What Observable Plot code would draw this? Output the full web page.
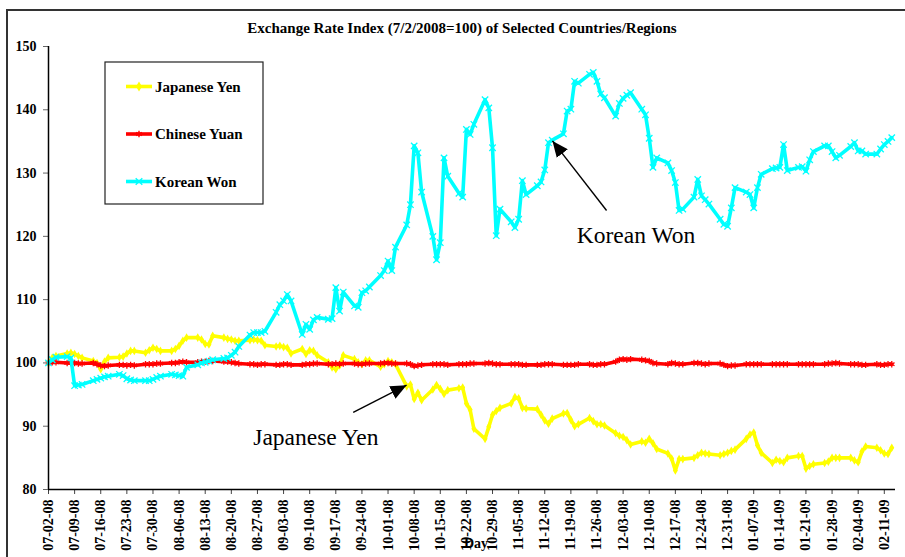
<!DOCTYPE html>
<html><head><meta charset="utf-8">
<script src="https://cdn.jsdelivr.net/npm/d3@7"></script>
<script src="https://cdn.jsdelivr.net/npm/@observablehq/plot@0.6"></script>
<style>body{margin:0;background:#fff;} svg{display:block;}</style>
</head><body><div id="chart"></div>
<script>
// ---------- data ----------
const title = "Exchange Rate Index (7/2/2008=100) of Selected Countries/Regions";
const xTitle = "Day";
const tickLabels = ["07-02-08","07-09-08","07-16-08","07-23-08","07-30-08","08-06-08","08-13-08","08-20-08","08-27-08","09-03-08","09-10-08","09-17-08","09-24-08","10-01-08","10-08-08","10-15-08","10-22-08","10-29-08","11-05-08","11-12-08","11-19-08","11-26-08","12-03-08","12-10-08","12-17-08","12-24-08","12-31-08","01-07-09","01-14-09","01-21-09","01-28-09","02-04-09","02-11-09"];
const yTicks = [80, 90, 100, 110, 120, 130, 140, 150];
const seriesNames = ["Japanese Yen", "Chinese Yuan", "Korean Won"];

// one value per business day (Wed..Tue rows), 07-02-08 .. 02-13-09
const japaneseYen = [
100.0,100.8,101.1,101.5,101.6, 101.4,101.1,100.8,100.3,100.0, 99.0,100.2,100.8,100.9,101.0,
101.5,101.9,101.9,101.6,102.0, 102.4,102.2,101.9,101.9,102.2, 102.7,103.5,104.0,104.0,103.7,
103.0,102.9,104.3,104.0,103.8, 103.7,103.5,103.5,103.6,103.7, 103.6,103.5,102.8,102.6,102.7,
102.5,102.4,101.5,102.2,101.4, 102.0,101.9,101.2,100.1,99.3, 99.0,99.6,101.2,100.6,100.1,
99.8,100.4,100.4,99.4,99.8, 100.3,100.1,99.8,96.3,96.6, 94.3,95.3,94.1,95.8,96.5,
95.9,95.1,95.7,96.0,96.1, 93.6,92.6,89.6,88.0,89.9, 91.8,92.4,92.9,93.6,94.6,
94.4,92.9,92.8,92.7,91.8, 90.9,90.4,91.2,92.0,92.1, 91.0,90.0,90.3,91.3,90.8,
90.3,90.3,90.1,88.9,88.5, 88.3,87.8,87.1,87.6,87.4, 88.0,87.3,86.4,85.7,84.9,
83.0,84.8,84.8,85.0,85.4, 85.8,85.7,85.6,85.4,85.6, 85.8,86.1,86.3,88.0,88.7,
89.0,87.0,85.8,84.2,84.7, 84.5,84.3,85.0,85.3,85.3, 83.3,83.7,84.0,84.2,84.4,
85.0,85.0,85.0,85.0,84.6, 84.3,86.0,86.8,86.6,86.2, 85.7,85.6,86.6
];
const chineseYuan = [
100.0,100.1,100.1,100.0,100.0, 100.0,99.9,99.9,100.0,99.8, 99.6,99.5,99.6,99.7,99.7,
99.6,99.7,99.6,99.8,99.8, 99.8,99.9,99.9,100.0,100.0, 100.1,100.2,100.1,100.1,100.2,
100.2,100.3,100.3,100.2,100.2, 100.1,100.0,99.9,99.8,99.8, 99.7,99.8,99.8,99.7,99.7,
99.8,99.8,99.7,99.7,99.8, 99.8,99.9,99.9,99.8,99.8, 99.9,99.8,99.9,99.9,99.8,
99.8,99.9,99.9,99.9,100.0, 100.0,99.9,99.9,99.9,99.8, 99.5,99.6,99.7,99.8,99.8,
99.8,99.8,99.7,99.8,99.8, 99.8,99.9,99.9,99.9,100.0, 99.9,99.8,99.8,99.8,99.8,
99.8,99.7,99.7,99.7,99.7, 99.8,99.8,99.8,99.7,99.7, 99.7,99.7,99.8,99.8,99.7,
99.7,99.8,99.8,100.2,100.5, 100.6,100.5,100.6,100.5,100.4, 100.3,100.0,99.9,99.8,100.0,
99.9,99.8,99.8,100.0,100.0, 99.9,99.8,99.9,99.9,99.7, 99.5,99.6,99.6,99.8,99.8,
99.8,99.8,99.8,99.8,99.8, 99.8,99.8,99.8,99.8,99.8, 99.8,99.8,99.8,99.8,99.9,
99.9,100.0,99.9,99.8,99.8, 99.8,99.7,99.7,99.8,99.7, 99.7,99.8,99.8
];
const koreanWon = [
100.0,100.5,100.9,101.0,100.8, 96.4,96.5,96.6,97.2,97.4, 97.6,97.8,97.9,98.2,98.0,
97.5,97.3,97.2,97.2,97.2, 97.4,97.7,97.9,98.2,98.1, 98.0,97.9,99.3,99.7,100.0,
100.1,100.3,100.5,100.7,100.8, 101.2,101.7,102.6,104.4,104.8, 104.8,104.8,105.0,108.0,109.2,
109.8,110.8,109.8,104.5,106.1, 105.3,106.8,107.2,106.9,107.0, 111.9,108.2,111.2,109.0,108.8,
111.1,111.4,112.0,113.8,114.6, 116.1,114.6,118.3,121.8,125.0, 134.3,133.2,127.0,120.0,116.3,
119.0,132.4,129.5,126.8,126.2, 136.9,136.1,137.7,141.6,140.3, 134.0,120.1,124.3,122.3,121.4,
122.7,128.8,126.6,128.0,128.6, 130.5,134.8,135.2,136.2,139.8, 140.1,144.5,144.2,145.6,145.9,
144.5,142.5,141.9,139.0,141.0, 141.8,142.3,142.7,140.1,139.2, 135.5,130.9,132.4,131.6,130.4,
128.5,124.1,124.3,126.2,129.0, 126.4,125.8,125.1,122.7,121.9, 121.6,124.5,127.7,127.0,126.6,
124.5,127.7,129.8,130.7,130.8, 130.9,134.5,130.4,130.9,131.0, 130.3,132.1,133.4,134.3,134.3,
133.4,132.4,132.8,134.2,134.8, 133.5,133.5,133.0,133.0,133.8, 134.5,135.0,135.6
];
// annotations: [days after 07-02-08, index value]
const annotations = [
  {text: "Korean Won",   tip: [135.2, 135.0], tail: [149.7, 124.0], at: [157.6, 118.8]},
  {text: "Japanese Yen", tip: [96.1, 96.4],   tail: [81.8, 92.1],   at: [71.8, 86.9]}
];

// ---------- styles ----------
const colors = ["#FFFF00", "#FF0000", "#00FFFF"];
const symbols = ["diamond", "asterisk", "times"];
const font = "'Liberation Serif', 'Times New Roman', serif";

// ---------- build ----------
const parse = d3.utcParse("%m-%d-%y");
const fmt = d3.utcFormat("%m-%d-%y");
const tickDates = tickLabels.map(parse);
const start = tickDates[0];
const dates = d3.utcDays(start, d3.utcDay.offset(tickDates[tickDates.length - 1], 3))
  .filter(d => d.getUTCDay() > 0 && d.getUTCDay() < 6);
const valueSets = [japaneseYen, chineseYuan, koreanWon];
const seriesData = valueSets.map((vals, s) =>
  vals.map((v, i) => ({date: dates[i], value: v, series: seriesNames[s]})));

const lineMarks = [];
seriesData.forEach((data, s) => {
  lineMarks.push(Plot.line(data, {x: "date", y: "value", stroke: colors[s], strokeWidth: 3.6, strokeLinejoin: "round"}));
  if (symbols[s] === "diamond")
    lineMarks.push(Plot.dot(data, {x: "date", y: "value", symbol: symbols[s], r: 2.6, fill: colors[s]}));
  else
    lineMarks.push(Plot.dot(data, {x: "date", y: "value", symbol: symbols[s], r: 3, stroke: colors[s], strokeWidth: 1.3}));
});

const chart = Plot.plot({
  width: 905, height: 557,
  marginLeft: 48, marginRight: 10, marginTop: 46, marginBottom: 68,
  style: {fontFamily: font, fontSize: "14px", fontWeight: "bold", background: "#fff", color: "#000", overflow: "visible"},
  x: {type: "utc", domain: [start, d3.utcDay.offset(start, 227)]},
  y: {domain: [80, 150]},
  marks: [
    Plot.axisY({ticks: yTicks, tickSize: 5, tickPadding: 7, label: null, stroke: "#666", fontSize: 14, fontWeight: "bold"}),
    Plot.axisX({ticks: tickDates, tickFormat: fmt, tickRotate: -90, tickSize: 5, tickPadding: 5, label: null, stroke: "#444", fontSize: 14, fontWeight: "bold"}),
    ...lineMarks,
    Plot.ruleX([start], {stroke: "#000", strokeWidth: 1.5}),
    Plot.ruleY([80], {stroke: "#000", strokeWidth: 1.5})
  ]
});
document.getElementById("chart").appendChild(chart);

// ---------- decorations ----------
const svg = d3.select(chart);
const xs = chart.scale("x"), ys = chart.scale("y");
const px = d => xs.apply(start.getTime() + d * 864e5);
const py = v => ys.apply(v);

svg.insert("rect", ":first-child").attr("x", 7).attr("y", 10).attr("width", 960).attr("height", 700)
  .attr("fill", "#fff").attr("stroke", "#333").attr("stroke-width", 2);

svg.append("text").attr("x", 462).attr("y", 33).attr("text-anchor", "middle")
  .style("font", `bold 15px ${font}`).text(title);
svg.append("text").attr("x", 476).attr("y", 548).attr("text-anchor", "middle")
  .style("font", `bold 14px ${font}`).text(xTitle);

// legend
const lg = svg.append("g");
lg.append("rect").attr("x", 105).attr("y", 62).attr("width", 158).attr("height", 142)
  .attr("fill", "#fff").attr("stroke", "#222").attr("stroke-width", 1.2);
seriesNames.forEach((name, s) => {
  const y = 86.5 + s * 47.5;
  lg.append("line").attr("x1", 126).attr("x2", 152).attr("y1", y).attr("y2", y)
    .attr("stroke", colors[s]).attr("stroke-width", 3.6);
  lg.append("path").attr("transform", `translate(139,${y})`)
    .attr("d", d3.symbol(s === 0 ? d3.symbolDiamond : s === 1 ? d3.symbolAsterisk : d3.symbolTimes, 30)())
    .attr("fill", s === 0 ? colors[s] : "none").attr("stroke", s === 0 ? "none" : colors[s]).attr("stroke-width", 1.4);
  lg.append("text").attr("x", 155).attr("y", y + 5).attr("text-anchor", "start")
    .style("font", `bold 15px ${font}`).attr("fill", "#000").text(name);
});

// arrows
const defs = svg.append("defs");
defs.append("marker").attr("id", "ah").attr("viewBox", "0 0 16 14").attr("refX", 16).attr("refY", 7)
  .attr("markerWidth", 16).attr("markerHeight", 14).attr("markerUnits", "userSpaceOnUse").attr("orient", "auto")
  .append("path").attr("d", "M0,0 L16,7 L0,14 Z").attr("fill", "#000");
annotations.forEach(a => {
  svg.append("line").attr("x1", px(a.tail[0])).attr("y1", py(a.tail[1]))
    .attr("x2", px(a.tip[0])).attr("y2", py(a.tip[1]))
    .attr("stroke", "#000").attr("stroke-width", 1.4).attr("marker-end", "url(#ah)");
  svg.append("text").attr("x", px(a.at[0])).attr("y", py(a.at[1])).attr("text-anchor", "middle")
    .style("font", `normal 23.5px ${font}`).attr("fill", "#000").text(a.text);
});
</script>
</body></html>
